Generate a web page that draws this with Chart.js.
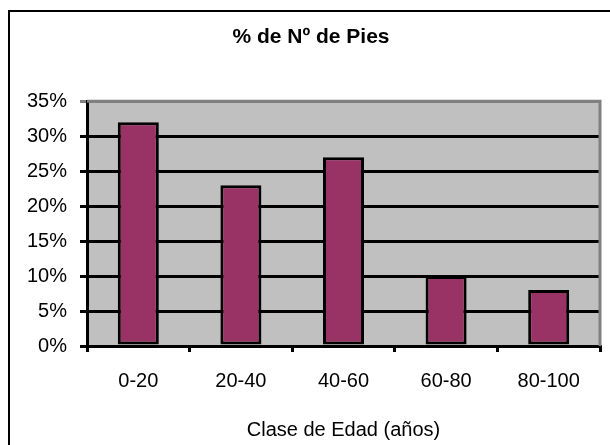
<!DOCTYPE html>
<html>
<head>
<meta charset="utf-8">
<script src="https://cdn.jsdelivr.net/npm/chart.js@4"></script>
<style>
  html, body { margin: 0; padding: 0; background: #fff; }
  #wrap { position: relative; width: 610px; height: 445px; overflow: hidden; }
  #frame { position: absolute; left: 8px; top: 10px; width: 700px; height: 500px;
           border-top: 2px solid #000; border-left: 2px solid #000; }
  canvas { position: absolute; left: 0; top: 0; }
</style>
</head>
<body>
<div id="wrap">
  <div id="frame"></div>
  <canvas id="grafico" width="610" height="445"></canvas>
</div>
<script>
// Datos del gráfico
const clases = ['0-20', '20-40', '40-60', '60-80', '80-100'];
const porcentajePies = [32, 23, 27, 10, 8];
const ticksY = [0, 5, 10, 15, 20, 25, 30, 35];

const fuente = "'Liberation Sans', Arial, sans-serif";

// fondo gris del área de trazado y bordes grises arriba / derecha
const fondoPlot = {
  id: 'fondoPlot',
  beforeDraw(chart) {
    const { ctx, chartArea: a } = chart;
    ctx.save();
    ctx.fillStyle = '#c0c0c0';
    ctx.fillRect(a.left, a.top, a.right - a.left, a.bottom - a.top);
    ctx.restore();
  },
  afterDatasetsDraw(chart) {
    const { ctx, chartArea: a } = chart;
    ctx.save();
    ctx.strokeStyle = '#808080';
    ctx.lineWidth = 3;
    ctx.beginPath();
    ctx.moveTo(a.left, a.top);
    ctx.lineTo(a.right, a.top);
    ctx.lineTo(a.right, a.bottom);
    ctx.stroke();
    ctx.restore();
  }
};

new Chart(document.getElementById('grafico'), {
  type: 'bar',
  data: {
    labels: clases,
    datasets: [{
      label: '% de Nº de Pies',
      data: porcentajePies,
      backgroundColor: '#993366',
      borderColor: '#000',
      borderWidth: 3,
      borderSkipped: false,
      barPercentage: 0.4,
      categoryPercentage: 1
    }]
  },
  options: {
    responsive: false,
    animation: false,
    layout: { padding: { left: 22, right: 10, top: 25, bottom: 3 } },
    plugins: {
      legend: { display: false },
      tooltip: { enabled: false },
      title: {
        display: true,
        text: '% de Nº de Pies',
        color: '#000',
        font: { family: fuente, size: 21, weight: 'bold' },
        padding: { top: 0, bottom: 51 }
      }
    },
    scales: {
      y: {
        min: 0,
        max: 35,
        afterBuildTicks(axis) { axis.ticks = ticksY.map(v => ({ value: v })); },
        afterFit(axis) { axis.width = 65; },
        ticks: {
          color: '#000',
          padding: 13,
          font: { family: fuente, size: 20 },
          callback: v => v + '%'
        },
        border: { color: '#000', width: 3 },
        grid: {
          color: ctx => (ctx.tick && ctx.tick.value === 35 ? '#808080' : '#000'),
          lineWidth: 3,
          tickLength: 7
        }
      },
      x: {
        offset: true,
        ticks: {
          color: '#000',
          padding: 17,
          font: { family: fuente, size: 20 }
        },
        border: { color: '#000', width: 3 },
        grid: {
          offset: true,
          drawOnChartArea: false,
          color: '#000',
          lineWidth: 3,
          tickLength: 6
        },
        title: {
          display: true,
          text: 'Clase de Edad (años)',
          color: '#000',
          font: { family: fuente, size: 20 },
          padding: { top: 8, bottom: 0 }
        }
      }
    }
  },
  plugins: [fondoPlot]
});
</script>
</body>
</html>
